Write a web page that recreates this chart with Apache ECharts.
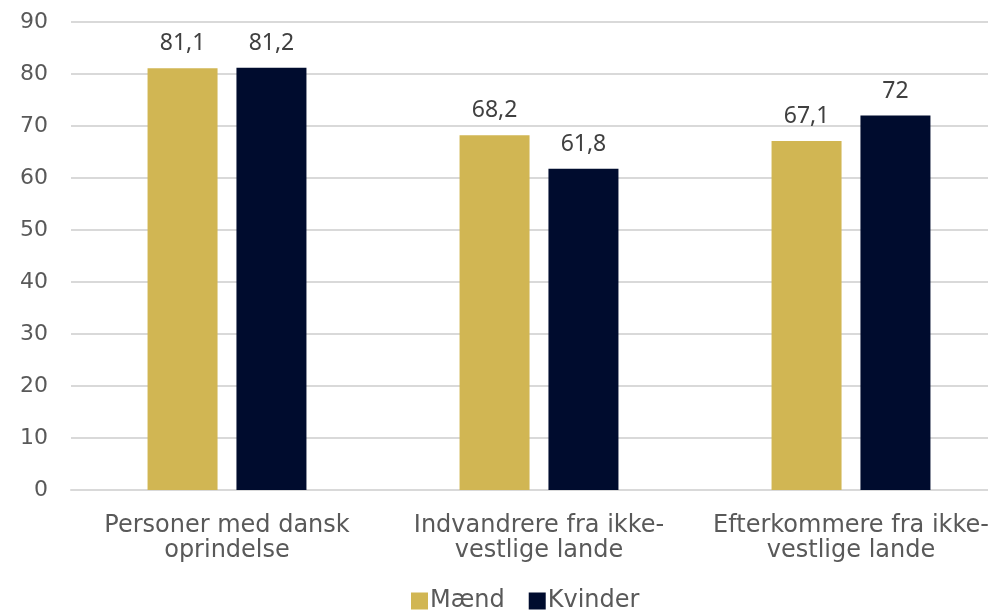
<!DOCTYPE html>
<html><head><meta charset="utf-8">
<script src="https://cdn.jsdelivr.net/npm/echarts@6/dist/echarts.min.js"></script>
<style>html,body{margin:0;padding:0;background:#fff;overflow:hidden}#c{width:1007px;height:610px}</style>
</head><body><div id="c"></div>
<script>
const categories = ["Personer med dansk\noprindelse", "Indvandrere fra ikke-\nvestlige lande", "Efterkommere fra ikke-\nvestlige lande"];
const seriesNames = ["Mænd", "Kvinder"];
const maend = [81.1, 68.2, 67.1];
const kvinder = [81.2, 61.8, 72];
const yTicks = [0, 10, 20, 30, 40, 50, 60, 70, 80, 90];

const FONT = "DejaVu Sans";
const chart = echarts.init(document.getElementById('c'), null, {renderer: 'canvas'});
const fmt = p => String(p.value).replace('.', ',');
const labelCfg = {show: true, position: 'top', distance: 13, color: '#404040', fontSize: 23, fontFamily: "Noto Sans", formatter: fmt};
chart.setOption({
  animation: false,
  grid: {left: 71, top: 22, right: 0, height: 468, containLabel: false},
  legend: {
    data: seriesNames, bottom: -8, left: 406, itemWidth: 17, itemHeight: 17, itemGap: 24,
    icon: 'rect', textStyle: {color: '#595959', fontSize: 24, fontFamily: FONT, padding: [0, 0, 0, -3]}
  },
  xAxis: {
    type: 'category', data: categories,
    axisLine: {lineStyle: {color: '#d9d9d9', width: 2}}, axisTick: {show: false},
    axisLabel: {color: '#595959', fontSize: 24, fontFamily: FONT, lineHeight: 25, margin: 23, interval: 0}
  },
  yAxis: {
    type: 'value', min: 0, max: 90, interval: 10,
    axisLabel: {color: '#595959', fontSize: 22, fontFamily: FONT, margin: 23,
      formatter: v => yTicks.includes(v) ? String(v) : ''},
    splitLine: {lineStyle: {color: '#d9d9d9', width: 2}},
    axisLine: {show: false}, axisTick: {show: false}
  },
  series: [
    {name: seriesNames[0], type: 'bar', data: maend, barWidth: 70, barGap: '27%', itemStyle: {color: '#D1B653'}, label: labelCfg},
    {name: seriesNames[1], type: 'bar', data: kvinder, barWidth: 70, barGap: '27%', itemStyle: {color: '#000C2E'}, label: labelCfg}
  ]
});
</script></body></html>
